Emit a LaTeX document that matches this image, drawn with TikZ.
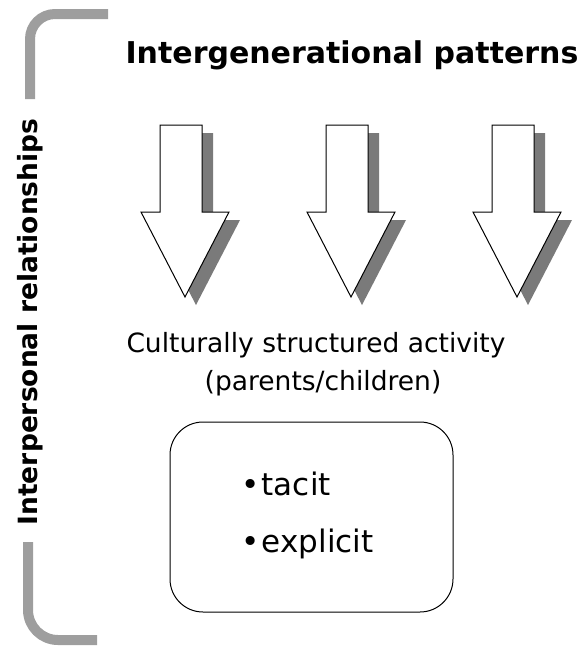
\documentclass[tikz,border=0pt]{standalone}
\usepackage{fontspec}
\setmainfont{DejaVu Sans}
\usetikzlibrary{positioning}
\definecolor{BrktClr}{rgb}{0.62,0.62,0.62}
\definecolor{ShadowClr}{rgb}{0.48,0.48,0.48}
\begin{document}
\begin{tikzpicture}[x=1pt,y=-1pt,
  brkt/.style={line width=10pt,color=BrktClr},
  shadow/.style={fill=ShadowClr,draw=none},
  downarrow/.style={draw=black,fill=white,line width=1pt},
  title/.style={font=\fontsize{30}{36}\selectfont\bfseries,anchor=base},
  sidetitle/.style={font=\fontsize{26.5}{32}\selectfont\bfseries,anchor=base,rotate=90},
  label/.style={font=\fontsize{26.5}{32}\selectfont,anchor=base},
  item/.style={font=\fontsize{31}{36}\selectfont,anchor=base west},
  frame/.style={draw=black,line width=1pt,rounded corners=33pt,minimum width=283pt,minimum height=190pt}]
\useasboundingbox (0,0) rectangle (585,646);

\draw[brkt,rounded corners=25pt] (108,14) -| (30,99);
\draw[brkt,rounded corners=30pt] (28,542) |- (97,640);

\node[title] (patterns) at (352,63) {Intergenerational patterns};
\node[sidetitle] (relations) at (37,322) {Interpersonal relationships};

\foreach \c/\n in {185/one,351/two,517/three}{
  \fill[shadow,shift={(11,8)}] (\c-25,125) -- (\c+17,125) -- (\c+17,212) -- (\c+44,212) -- (\c,297) -- (\c-44,212) -- (\c-25,212) -- cycle;
  \draw[downarrow] (\c-25,125) -- (\c+17,125) -- (\c+17,212) -- (\c+44,212) -- (\c,297) -- (\c-44,212) -- (\c-25,212) -- cycle;
}

\node[label] (activity) at (316,352) {Culturally structured activity};
\node[label] (who) at (323,390) {(parents/children)};

\node[frame] (box) at (311.5,517) {};
\node[item] (tacit) at (238,495) {\textbullet\hspace{2pt}tacit};
\node[item] (explicit) at (238,552) {\textbullet\hspace{2pt}explicit};

\end{tikzpicture}
\end{document}
